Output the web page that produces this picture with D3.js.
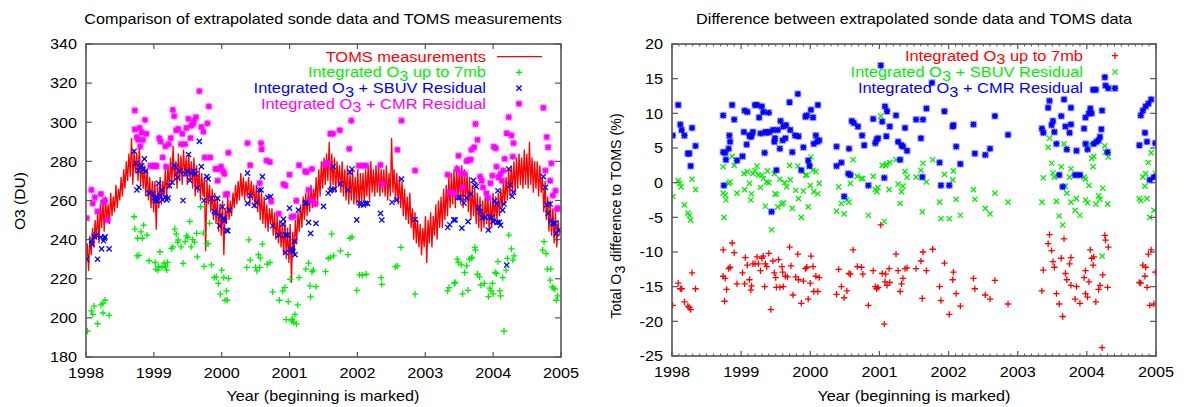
<!DOCTYPE html>
<html><head><meta charset="utf-8">
<script src="https://cdn.jsdelivr.net/npm/d3@7"></script>
<style>body{margin:0;background:#fff}svg{display:block}text{font-family:"Liberation Sans",Arial,Helvetica,sans-serif}</style>
</head><body><svg id="c" width="1188" height="407"></svg>
<script>
// ---------------- data ----------------
const yearTicks = [1998,1999,2000,2001,2002,2003,2004,2005];
const leftYTicks = [180,200,220,240,260,280,300,320,340];
const rightYTicks = [-25,-20,-15,-10,-5,0,5,10,15,20];

// TOMS total ozone (DU), weekly readings starting 1998-01-01
const tomsStartYear = 1998, tomsStepDays = 7;
const tomsDU = [
// 1998
228,238,224,242, 232,246,236,250, 240,255,238,258, 246,260,244,262,250, 258,248,264,252, 262,254,268,256,266, 260,272,262,276, 266,280,270,284, 272,292,268,286,274, 284,270,288,268, 280,266,278,262, 276,260,272,256,270,
// 1999
254,270,245,268, 256,272,258,270, 262,276,260,278,266, 282,268,288,270, 280,266,284,270, 283,268,286,272,282, 268,284,270,280, 266,282,262,278, 264,276,260,274,262, 272,234,270,258, 268,254,266,250, 264,248,262,244,258,
// 2000
242,260,232,256, 248,262,250,260, 252,264,256,268,258, 270,260,274,262, 272,260,270,262, 272,258,270,260,268, 256,268,254,266, 250,264,248,262, 246,258,244,256,248, 256,242,254,240, 252,238,250,236, 248,232,250,230,246,
// 2001
228,248,218,244, 232,250,238,254, 244,258,246,262,250, 264,252,266,254, 268,256,266,258, 272,258,276,262,280, 266,282,268,284, 270,290,266,284, 268,282,264,280,268, 278,264,280,262, 276,260,278,258, 274,260,276,258,272,
// 2002
258,276,256,274, 260,274,258,276, 262,278,260,280,264, 276,262,278,264, 278,262,276,264, 276,262,278,260,274, 262,292,264,276, 260,274,258,272, 256,270,252,266,250, 262,248,264,246, 256,240,254,238, 250,236,248,232,246,
// 2003
236,252,228,250, 238,254,236,252, 242,258,240,260,246, 262,246,266,250, 268,252,272,256, 274,258,276,256,278, 260,276,258,278, 256,276,260,274, 254,272,250,268,252, 266,248,264,246, 262,244,260,246, 262,248,264,244,260,
// 2004
246,264,248,262, 250,264,252,266, 256,270,258,272,260, 276,262,278,264, 280,264,282,266, 284,268,282,266,286, 268,284,266,290, 268,282,264,280, 266,280,262,278,264, 272,254,270,250, 262,244,260,242, 256,238,254,236,250,
242
];

// Left panel: sonde totals (DU) as [year, value]
const sonde7mb = [
[1998.02,193.3],[1998.08,203.6],[1998.10,201.8],[1998.12,206],[1998.17,197],[1998.22,206.6],[1998.25,207.5],[1998.28,209],[1998.25,202.5],[1998.34,201.3],
[1998.71,251.7],[1998.72,245.4],[1998.75,231.7],[1998.78,232],[1998.76,240.7],[1998.81,244],[1998.83,240.7],[1998.85,247.4],[1998.90,242.3],[1998.93,229.2],
[1999.02,228.3],[1999.03,224.9],[1999.06,224.4],[1999.07,226.3],[1999.09,233.8],[1999.12,225.8],[1999.15,228],[1999.17,226.4],[1999.19,224.4],[1999.20,228.3],
[1999.26,235.5],[1999.28,236.3],[1999.31,245.4],[1999.33,242.8],[1999.35,238.6],[1999.36,239.8],[1999.40,236.3],[1999.43,227.9],[1999.46,239],[1999.48,241.9],
[1999.50,241.2],[1999.53,249.3],[1999.55,236.3],[1999.57,240],[1999.60,238.7],[1999.63,243.2],[1999.64,231.2],[1999.69,256.8],[1999.73,243.3],[1999.74,226.3],
[1999.78,238],[1999.80,238],[1999.82,248.3],[1999.85,227.1],[1999.89,220.6],[1999.92,221],[1999.95,217.6],[1999.98,212.1],[2000.00,224.4],[2000.03,220.6],
[2000.05,209],[2000.07,213.8],[2000.10,220.1],[2000.08,209],
[2000.37,225.8],[2000.40,239.9],[2000.42,229.5],[2000.50,225.8],[2000.52,224],[2000.56,225.8],[2000.54,232.3],[2000.57,230.5],[2000.60,237.7],[2000.67,227.5],
[2000.71,228.3],[2000.75,213.3],[2000.85,209],[2000.90,213.8],[2000.93,215.5],[2000.95,199.1],[2000.98,208.3],[2001.01,219.7],[2001.03,198.4],[2001.04,199.3],
[2001.06,197.6],[2001.08,201.8],[2001.10,196.9],[2001.12,206.6],[2001.14,220.6],[2001.24,224.9],[2001.28,228],[2001.30,216.4],[2001.31,210.7],[2001.33,223.6],
[2001.35,224.4],[2001.39,216],[2001.53,223.6],[2001.57,230.4],[2001.60,230.9],[2001.62,242.9],[2001.65,231.7],[2001.75,234.3],[2001.86,232.3],[2001.89,240.7],
[2001.92,241.4],[2001.99,214.1],[2002.03,222],[2002.07,221.8],[2002.13,222.3],[2002.35,220.6],[2002.36,217.1],[2002.56,226.1],[2002.59,226.6],[2002.64,236],
[2002.85,212.1],
[2003.33,213.8],[2003.35,215.5],[2003.43,217.6],[2003.44,218.1],[2003.47,230],[2003.49,228.3],[2003.53,227.1],[2003.55,212.3],[2003.58,223.2],[2003.61,226.6],
[2003.63,214.1],[2003.65,230],[2003.68,230.5],[2003.69,230.9],[2003.73,236],[2003.74,234.6],[2003.77,222.3],[2003.80,221],[2003.82,216.8],[2003.87,217.6],
[2003.93,210.9],[2003.95,215.2],[2003.97,213.8],[2003.99,217.6],[2004.00,212.3],[2004.03,223.2],[2004.05,222.6],[2004.07,228.8],[2004.10,213.8],[2004.11,211.2],
[2004.14,220.6],[2004.16,193.3],[2004.19,224.4],[2004.21,230.4],[2004.23,242.3],[2004.27,235.3],[2004.29,229.5],[2004.31,231.7],
[2004.75,239],[2004.73,234.6],[2004.78,232.9],[2004.80,224.9],[2004.84,219.3],[2004.85,224.9],[2004.87,215.8],[2004.89,215.2],[2004.91,214.7],[2004.93,209],[2004.95,211.2]
];
const sondeSBUV = [
[1998.01,230],[1998.08,239.4],[1998.09,237.7],[1998.12,241.5],[1998.15,242.3],[1998.17,230],[1998.22,241.2],[1998.23,235.3],[1998.27,240.7],[1998.28,241.4],[1998.26,239.4],[1998.34,235.3],
[1998.71,285.2],[1998.74,279],[1998.75,265.4],[1998.77,275.3],[1998.78,266.7],[1998.80,277],[1998.82,277.8],[1998.84,275.6],[1998.86,281.3],[1998.88,275],[1998.93,263.8],[1998.98,263.7],
[1999.01,261.3],[1999.02,259.9],[1999.04,261.6],[1999.05,259.9],[1999.07,268.8],[1999.09,262.5],[1999.12,265.4],[1999.13,260.4],[1999.17,261.6],[1999.19,260.3],[1999.21,261.3],[1999.23,267.6],
[1999.27,269.3],[1999.30,277.9],[1999.32,277],[1999.35,271.9],[1999.38,275],[1999.43,260],[1999.46,273.6],[1999.49,275],[1999.51,283.5],[1999.53,270.2],[1999.55,274],[1999.59,275],
[1999.61,273.6],[1999.64,266.5],[1999.67,290.2],[1999.70,277.3],[1999.74,260],[1999.78,272.2],[1999.80,271],[1999.85,261.1],[1999.89,254.4],[1999.91,253.6],[1999.94,261.1],[1999.97,247.1],
[1999.98,252.2],[2000.01,256.8],[2000.03,251],[2000.04,249.7],[2000.07,244.8],[2000.09,244.5],[2000.11,255.1],
[2000.38,274],[2000.38,258.5],[2000.42,262.5],[2000.48,257.5],[2000.52,259.1],[2000.55,265.4],[2000.58,265.4],[2000.60,272.2],[2000.68,261.6],[2000.72,262],[2000.75,247.1],[2000.84,242.3],
[2000.90,247.9],[2000.91,250.5],[2000.94,242.4],[2000.97,242.3],[2000.94,233.4],[2001.00,256.1],[2001.02,234.7],[2001.04,235.3],[2001.05,234],[2001.07,239.1],[2001.08,232.3],[2001.13,255.1],
[2001.23,258.5],[2001.25,258.9],[2001.28,248.8],[2001.31,243.2],[2001.32,259.9],[2001.39,248.3],[2001.50,257],[2001.57,263.7],[2001.60,265],[2001.62,265.7],[2001.64,277.3],[2001.66,265.9],
[2001.75,268.5],[2001.86,265.4],[2001.89,274.5],[2001.92,276.1],[2001.99,250.1],[2002.03,258.7],[2002.05,257.8],[2002.09,257.7],[2002.12,258.5],[2002.15,258.5],[2002.34,253.4],[2002.36,250],
[2002.51,259.1],[2002.58,260.3],[2002.65,271],[2002.85,250.3],
[2003.33,246.2],[2003.36,247.6],[2003.42,250.1],[2003.44,250.1],[2003.48,261.6],[2003.51,261.6],[2003.54,245.9],[2003.57,258.7],[2003.61,261.3],[2003.63,249.2],[2003.67,263.3],[2003.71,270.3],
[2003.73,267.9],[2003.75,267.1],[2003.79,256.5],[2003.81,254.3],[2003.84,251.3],[2003.88,251.3],[2003.93,244.9],[2003.95,251.7],[2003.98,251.3],[2004.00,249.3],[2004.02,259.9],[2004.05,258.2],
[2004.07,265],[2004.06,248.8],[2004.09,248.8],[2004.11,247.4],[2004.14,255.1],[2004.16,258.2],[2004.20,227],[2004.23,276.1],[2004.25,267.9],[2004.28,262.2],[2004.30,264.2],
[2004.74,272.2],[2004.77,266.7],[2004.79,257.8],[2004.81,253.4],[2004.84,258.2],[2004.85,249.6],[2004.88,248.3],[2004.91,248.3],[2004.93,243.2],[2004.97,244.9]
];
const sondeCMR = [
[1998.01,251],[1998.08,265.4],[1998.10,258.5],[1998.13,261.6],[1998.17,254.4],[1998.22,263.3],[1998.25,259.1],[1998.28,259.9],[1998.32,250],
[1998.72,306],[1998.72,296.3],[1998.75,292.4],[1998.77,291],[1998.79,297.1],[1998.82,294.9],[1998.84,291],[1998.87,301.2],[1998.89,294.1],[1998.80,287.7],[1998.95,277.8],
[1998.98,277.5],[1999.02,277.8],[1999.04,277.5],[1999.08,291.9],[1999.10,290.1],[1999.13,282],[1999.17,287.7],[1999.18,277.3],[1999.22,288.8],[1999.25,291.9],[1999.28,306.3],[1999.30,303.1],
[1999.33,295.9],[1999.36,296.6],[1999.40,288.8],[1999.42,294.1],[1999.46,288.8],[1999.48,297.1],[1999.51,301.7],[1999.54,291.9],[1999.55,298.2],[1999.58,299.1],[1999.59,300.8],[1999.62,302.6],
[1999.67,315.9],[1999.70,297.6],[1999.73,295.2],[1999.75,282],[1999.79,299.4],[1999.81,308.1],[1999.83,282],[1999.91,276.1],[1999.94,270.1],[1999.95,276.1],[1999.99,277.3],[2000.02,275],
[2000.04,273.6],[2000.06,263],[2000.08,263.3],[2000.10,284.4],
[2000.38,289.3],[2000.42,278],[2000.56,268.8],[2000.58,289.3],[2000.59,286.2],[2000.66,280.4],[2000.71,279.7],[2000.73,259.5],[2000.84,253.2],[2000.91,268.4],[2000.94,267.6],[2001.00,273.2],
[2001.03,251.5],[2001.06,251.9],[2001.10,259.9],[2001.14,278],[2001.23,275],[2001.25,274.5],[2001.28,265.4],[2001.32,260.3],[2001.33,276.1],[2001.38,258.2],[2001.52,278.2],[2001.56,279.2],
[2001.60,294.1],[2001.64,294.1],[2001.74,295.9],[2001.88,286.4],[2001.91,300.8],[2002.02,277.8],[2002.08,277.8],[2002.13,277.8],[2002.34,278.2],[2002.37,268.5],[2002.59,285.9],[2002.65,300.8],
[2002.85,275.3],
[2003.33,273.2],[2003.36,264.2],[2003.42,263.7],[2003.47,276.1],[2003.49,282.9],[2003.53,273.9],[2003.55,266.7],[2003.58,273.6],[2003.61,280.2],[2003.64,280.6],[2003.67,280.9],[2003.68,285.9],
[2003.72,287.2],[2003.74,299.1],[2003.77,291],[2003.81,272.2],[2003.83,270.1],[2003.85,266.7],[2003.90,263.7],[2003.93,261.3],[2003.96,268.8],[2003.99,272.7],[2004.01,287.5],[2004.04,286.7],
[2004.05,277.3],[2004.08,271.9],[2004.11,273.6],[2004.13,270.1],[2004.15,275.3],[2004.17,281.3],[2004.20,294.4],[2004.23,302.6],[2004.27,293.2],[2004.29,282.4],[2004.30,289.3],
[2004.74,307.4],[2004.77,275.3],[2004.79,292.4],[2004.81,287.2],[2004.84,270.1],[2004.86,279],[2004.88,262.5],[2004.92,265],[2004.94,255.6],[2004.96,256.1]
];

// Right panel: difference to TOMS (%) as [year, value]
const diff7mb = [
[1998.01,-17.7],[1998.09,-14.5],[1998.12,-15.3],[1998.14,-15.3],[1998.18,-17.2],[1998.23,-17.8],[1998.25,-18.0],[1998.27,-18.3],[1998.29,-13.0],[1998.34,-15.3],
[1998.74,-9.7],[1998.74,-13.5],[1998.76,-17.1],[1998.77,-13.8],[1998.79,-15.4],[1998.82,-12.4],[1998.84,-12.2],[1998.87,-8.7],[1998.90,-10.1],[1998.94,-14.6],
[1999.02,-13.0],[1999.05,-14.6],[1999.06,-10.8],[1999.09,-11.9],[1999.12,-14.0],[1999.14,-15.5],[1999.15,-14.9],[1999.17,-11.7],[1999.20,-11.7],[1999.23,-10.7],
[1999.25,-11.7],[1999.28,-12.7],[1999.30,-10.9],[1999.32,-10.6],[1999.35,-11.7],[1999.37,-12.1],[1999.34,-15.0],[1999.40,-10.2],[1999.43,-18.3],[1999.46,-11.3],
[1999.48,-13.0],[1999.50,-13.7],[1999.51,-15.1],[1999.54,-11.1],[1999.56,-15.1],[1999.59,-12.1],[1999.61,-15.0],[1999.60,-12.9],[1999.64,-13.5],[1999.67,-13.6],
[1999.70,-9.3],[1999.72,-12.0],[1999.75,-16.2],[1999.79,-13.6],[1999.82,-10.3],[1999.83,-14.0],[1999.87,-17.4],[1999.90,-14.2],[1999.93,-12.4],[1999.95,-12.2],
[1999.97,-16.8],[2000.00,-14.5],[2000.01,-10.6],[2000.04,-12.1],[2000.05,-15.7],[2000.08,-13.5],[2000.11,-15.7],[2000.13,-13.7],
[2000.38,-16.1],[2000.41,-12.5],[2000.45,-15.0],[2000.49,-16.6],[2000.53,-15.6],[2000.56,-13.1],[2000.58,-13.2],[2000.62,-9.7],[2000.68,-12.1],[2000.74,-12.2],
[2000.76,-13.2],[2000.84,-17.7],[2000.91,-12.7],[2000.94,-15.0],[2000.96,-15.3],[2000.98,-15.1],[2001.02,-6.1],[2001.04,-13.1],[2001.07,-20.4],[2001.09,-13.2],
[2001.08,-14.3],[2001.11,-14.8],[2001.14,-12.4],[2001.15,-14.4],[2001.24,-10.3],[2001.27,-12.7],[2001.30,-15.7],[2001.32,-14.6],[2001.34,-13.8],[2001.37,-12.4],
[2001.40,-12.3],[2001.53,-12.4],[2001.60,-11.3],[2001.62,-16.7],[2001.63,-10.0],[2001.68,-12.7],[2001.77,-9.6],[2001.87,-15.0],[2001.89,-17.0],[2001.94,-11.6],
[2002.01,-19.0],[2002.06,-14.0],[2002.07,-12.9],[2002.11,-16.0],[2002.17,-17.8],[2002.36,-13.8],[2002.38,-15.3],[2002.53,-16.2],[2002.60,-16.8],[2002.67,-14.1],
[2002.86,-17.5],
[2003.35,-15.6],[2003.37,-12.6],[2003.44,-8.8],[2003.46,-7.5],[2003.49,-9.8],[2003.51,-11.4],[2003.53,-12.2],[2003.56,-16.0],[2003.60,-17.5],[2003.63,-10.9],
[2003.65,-19.3],[2003.67,-8.1],[2003.69,-13.1],[2003.71,-14.0],[2003.75,-11.7],[2003.77,-10.8],[2003.77,-14.8],[2003.83,-16.8],[2003.85,-15.0],[2003.90,-17.4],
[2003.96,-13.7],[2003.98,-12.7],[2003.98,-16.0],[2004.01,-16.5],[2004.03,-14.3],[2004.05,-9.7],[2004.07,-10.9],[2004.09,-11.9],[2004.10,-10.7],[2004.13,-17.2],
[2004.17,-15.4],[2004.19,-14.8],[2004.22,-23.8],[2004.23,-13.3],[2004.26,-7.6],[2004.27,-8.3],[2004.31,-9.3],[2004.30,-15.1],
[2004.76,-14.4],[2004.78,-14.5],[2004.81,-11.9],[2004.84,-13.5],[2004.85,-12.2],[2004.87,-15.1],[2004.89,-10.3],[2004.91,-17.7],[2004.93,-9.7],[2004.97,-17.5],[2004.99,-12.9]
];
const diffSBUV = [
[1998.01,-2.0],[1998.09,0.3],[1998.11,-0.1],[1998.13,-0.6],[1998.18,-3.2],[1998.23,-4.4],[1998.25,-4.7],[1998.27,-5.4],[1998.29,0.5],[1998.34,-1.0],
[1998.74,2.3],[1998.74,-1.5],[1998.75,-5.0],[1998.77,-1.8],[1998.78,-2.5],[1998.82,-0.1],[1998.84,0.1],[1998.87,3.8],[1998.90,2.5],[1998.94,-1.5],
[1999.02,3.8],[1999.05,-1.0],[1999.04,1.3],[1999.09,1.6],[1999.12,-0.1],[1999.14,-2.5],[1999.15,-1.6],[1999.17,1.3],[1999.20,1.7],[1999.23,2.4],
[1999.25,1.1],[1999.28,-0.7],[1999.30,1.1],[1999.32,0.6],[1999.35,-3.4],[1999.37,0.1],[1999.38,1.7],[1999.40,0.0],[1999.44,-6.8],[1999.48,1.3],
[1999.49,-1.6],[1999.51,-1.7],[1999.53,-3.5],[1999.56,0.5],[1999.59,-3.1],[1999.61,-2.9],[1999.63,0.0],[1999.66,-0.6],[1999.70,2.5],[1999.71,0.4],
[1999.74,-3.7],[1999.79,-1.1],[1999.82,2.4],[1999.83,-2.3],[1999.87,-5.0],[1999.90,-1.2],[1999.93,1.1],[1999.95,1.1],[1999.97,-3.5],[2000.00,-0.4],
[2000.01,3.7],[2000.04,1.8],[2000.05,-1.3],[2000.08,1.6],[2000.11,-1.6],[2000.13,-0.1],
[2000.38,-4.1],[2000.41,-0.6],[2000.45,-3.0],[2000.49,-4.5],[2000.53,-2.5],[2000.56,-2.8],[2000.58,-0.1],[2000.62,3.3],[2000.68,0.9],[2000.74,0.6],
[2000.76,0.6],[2000.84,-4.7],[2000.91,0.9],[2000.94,-1.0],[2000.96,-1.3],[2000.98,-0.7],[2001.02,9.6],[2001.04,2.5],[2001.07,-5.6],[2001.09,2.5],
[2001.11,2.7],[2001.14,-1.0],[2001.15,2.9],[2001.24,3.3],[2001.27,-0.2],[2001.30,-3.0],[2001.32,-1.3],[2001.34,-0.5],[2001.37,1.6],[2001.40,0.8],
[2001.53,0.8],[2001.60,1.8],[2001.62,-4.2],[2001.63,2.8],[2001.68,0.1],[2001.77,3.3],[2001.87,-2.8],[2001.89,-5.2],[2001.94,1.2],[2002.01,-5.2],
[2002.06,0.4],[2002.07,1.7],[2002.11,-2.4],[2002.17,-4.7],[2002.36,-1.0],[2002.38,-2.4],[2002.53,-3.7],[2002.60,-4.5],[2002.67,-1.5],[2002.86,-2.8],
[2003.35,-2.8],[2003.37,0.7],[2003.44,5.1],[2003.46,6.4],[2003.49,2.8],[2003.51,1.4],[2003.53,0.8],[2003.56,-2.7],[2003.60,-4.8],[2003.63,2.3],
[2003.65,-6.1],[2003.67,5.6],[2003.69,-0.5],[2003.71,-1.5],[2003.75,0.8],[2003.77,2.0],[2003.77,-2.8],[2003.83,-4.0],[2003.85,-2.3],[2003.90,-4.7],
[2003.96,0.8],[2003.98,0.5],[2003.98,-2.5],[2004.01,-2.9],[2004.03,-0.4],[2004.05,5.6],[2004.07,3.5],[2004.09,2.3],[2004.10,3.8],[2004.13,-3.1],
[2004.17,-1.9],[2004.19,-2.4],[2004.22,-10.6],[2004.23,-0.8],[2004.26,5.3],[2004.27,4.4],[2004.31,3.7],[2004.30,-3.1],
[2004.76,-2.3],[2004.78,-2.6],[2004.81,0.8],[2004.84,-0.5],[2004.85,1.3],[2004.87,-2.3],[2004.89,2.9],[2004.91,-5.0],[2004.93,4.3],[2004.97,-4.0],[2004.99,1.3]
];
const diffCMR = [
[1998.01,6.8],[1998.09,11.2],[1998.12,8.4],[1998.14,7.6],[1998.18,6.8],[1998.23,4.2],[1998.25,4.2],[1998.27,2.4],[1998.29,7.9],[1998.34,5.3],
[1998.74,9.7],[1998.74,4.4],[1998.75,-0.4],[1998.77,4.3],[1998.78,3.3],[1998.82,4.9],[1998.83,6.8],[1998.84,5.9],[1998.87,11.2],[1998.90,9.1],[1998.94,3.2],
[1999.02,3.8],[1999.04,7.3],[1999.05,10.4],[1999.08,5.5],[1999.09,10.2],[1999.12,6.8],[1999.14,6.6],[1999.15,6.8],[1999.17,7.3],[1999.20,11.2],
[1999.23,11.2],[1999.26,9.4],[1999.28,7.1],[1999.30,11.0],[1999.32,10.2],[1999.34,4.3],[1999.35,7.3],[1999.37,7.2],[1999.40,10.1],[1999.41,7.3],
[1999.44,-4.2],[1999.46,7.6],[1999.48,5.9],[1999.49,6.4],[1999.51,1.8],[1999.53,7.6],[1999.56,4.9],[1999.57,8.9],[1999.60,6.1],[1999.61,8.1],
[1999.64,6.4],[1999.65,8.3],[1999.70,11.6],[1999.71,7.6],[1999.74,4.4],[1999.78,6.8],[1999.82,12.8],[1999.83,6.7],[1999.87,1.8],[1999.90,5.1],
[1999.93,9.5],[1999.95,9.7],[1999.97,3.2],[1999.99,2.4],[2000.01,10.5],[2000.04,9.4],[2000.05,5.6],[2000.08,6.8],[2000.10,5.9],[2000.11,11.2],[2000.13,6.1],
[2000.38,5.2],[2000.38,2.4],[2000.45,2.9],[2000.49,-2.0],[2000.55,1.3],[2000.56,4.9],[2000.58,1.1],[2000.60,8.9],[2000.63,8.6],[2000.69,8.1],
[2000.75,6.8],[2000.78,5.4],[2000.84,-0.4],[2000.91,9.2],[2000.94,5.7],[2000.96,6.2],[2000.98,6.4],[2001.02,16.9],[2001.04,8.8],[2001.07,0.7],
[2001.08,11.0],[2001.10,6.7],[2001.11,10.3],[2001.15,8.1],[2001.24,9.7],[2001.27,5.9],[2001.30,3.3],[2001.32,5.4],[2001.34,5.2],[2001.37,7.9],
[2001.40,4.6],[2001.53,9.1],[2001.60,6.4],[2001.62,0.8],[2001.63,9.1],[2001.68,10.7],[2001.76,14.4],[2001.87,2.9],[2001.89,-0.4],[2001.94,10.3],
[2002.01,-0.4],[2002.06,8.1],[2002.07,8.3],[2002.11,5.2],[2002.17,2.7],[2002.36,8.4],[2002.38,4.2],[2002.53,4.0],[2002.60,4.9],[2002.67,9.6],[2002.86,6.9],
[2003.35,7.8],[2003.37,7.2],[2003.44,10.8],[2003.46,11.8],[2003.49,8.3],[2003.51,8.9],[2003.53,7.3],[2003.56,5.6],[2003.60,1.1],[2003.63,9.6],
[2003.65,-0.6],[2003.67,12.0],[2003.69,8.1],[2003.71,4.8],[2003.75,7.2],[2003.77,8.4],[2003.77,10.8],[2003.83,1.1],[2003.85,4.6],[2003.90,1.1],
[2003.96,7.8],[2003.98,5.6],[2003.98,9.4],[2004.01,4.8],[2004.03,10.0],[2004.05,10.7],[2004.07,10.0],[2004.09,13.4],[2004.10,5.6],[2004.13,13.4],
[2004.14,5.9],[2004.17,6.1],[2004.19,6.6],[2004.21,7.7],[2004.22,10.4],[2004.26,15.2],[2004.27,14.0],[2004.31,13.6],[2004.30,4.4],
[2004.76,5.4],[2004.78,9.7],[2004.81,10.4],[2004.84,7.2],[2004.85,11.0],[2004.87,5.9],[2004.89,11.4],[2004.91,0.4],[2004.93,12.0],[2004.97,0.8],[2004.99,5.7]
];

// ---------------- drawing ----------------
const svg = d3.select("#c");
const SX = 1.08;           // horizontal glyph stretch of the original rendering
const FONT = 15;
const LEG = 15.5, LEGSX = 1.06;
const AXIS = "#555";

function addText(g, parts, x, y, o) {
  o = Object.assign({size: FONT, anchor: "middle", color: "#000", sx: SX, rot: 0}, o || {});
  const t = g.append("text")
    .attr("text-anchor", o.anchor)
    .attr("font-size", o.size)
    .attr("fill", o.color)
    .attr("transform", `translate(${x},${y})` + (o.rot ? ` rotate(${o.rot})` : "") + ` scale(${o.sx},1)`);
  if (typeof parts === "string") parts = [parts];
  let shifted = false;
  parts.forEach(p => {
    if (typeof p === "string") {
      t.append("tspan").attr("dy", shifted ? -3.5 : 0).text(p); shifted = false;
    } else {
      t.append("tspan").attr("dy", 3.5).text(p.sub); shifted = true;
    }
  });
  return t;
}

const markers = {
  plus: (s) => `M${-s},0H${s}M0,${-s}V${s}`,
  cross: (s) => `M${-s},${-s}L${s},${s}M${-s},${s}L${s},${-s}`,
  star: (s) => `M${-s},0H${s}M0,${-s}V${s}M${-s*0.8},${-s*0.8}L${s*0.8},${s*0.8}M${-s*0.8},${s*0.8}L${s*0.8},${-s*0.8}`
};

function drawPoints(g, data, x, y, type, color) {
  const grp = g.append("g");
  const sel = grp.selectAll("g.pt").data(data).join("g")
    .attr("transform", d => `translate(${x(d[0])},${y(d[1])})`);
  if (type === "star") {
    sel.append("rect").attr("x", -3.7).attr("y", -3.7).attr("width", 7.4).attr("height", 7.4)
      .attr("fill", color).attr("opacity", 0.25);
    sel.append("path").attr("d", markers.star(3)).attr("stroke", color).attr("stroke-width", 1.5).attr("fill", "none");
  } else if (type === "plus") {
    sel.append("path").attr("d", markers.plus(3.2)).attr("stroke", color).attr("stroke-width", 1.3).attr("fill", "none");
  } else {
    sel.append("path").attr("d", markers.cross(2.6)).attr("stroke", color).attr("stroke-width", 1.3).attr("fill", "none");
  }
}
function legendMarker(g, type, color, cx, cy) {
  drawPoints(g, [[0, 0]], () => cx, () => cy, type, color);
}

function frame(g, box, x, y, yTicks, minorX) {
  const fr = g.append("g").attr("stroke", AXIS).attr("fill", "none");
  yearTicks.forEach(t => {
    const px = x(t);
    fr.append("line").attr("x1", px).attr("x2", px).attr("y1", box.y1).attr("y2", box.y1 - 5).attr("stroke-width", 1.2);
    fr.append("line").attr("x1", px).attr("x2", px).attr("y1", box.y0).attr("y2", box.y0 + 5).attr("stroke-width", 1.2);
  });
  if (minorX) {
    d3.range(1998, 2005, minorX).forEach(t => {
      if (Math.abs(t - Math.round(t)) < 1e-6) return;
      const px = x(t);
      fr.append("line").attr("x1", px).attr("x2", px).attr("y1", box.y1).attr("y2", box.y1 - 2.5).attr("stroke-width", 1);
      fr.append("line").attr("x1", px).attr("x2", px).attr("y1", box.y0).attr("y2", box.y0 + 2.5).attr("stroke-width", 1);
    });
  }
  yTicks.forEach(t => {
    const py = y(t);
    fr.append("line").attr("x1", box.x0).attr("x2", box.x0 + 6).attr("y1", py).attr("y2", py).attr("stroke-width", 1.2);
    fr.append("line").attr("x1", box.x1).attr("x2", box.x1 - 6).attr("y1", py).attr("y2", py).attr("stroke-width", 1.2);
  });
  fr.append("rect").attr("x", box.x0).attr("y", box.y0).attr("width", box.x1 - box.x0).attr("height", box.y1 - box.y0)
    .attr("stroke-width", 1.6);
  const lg = g.append("g");
  yearTicks.forEach(t => addText(lg, String(t), x(t), box.y1 + 21, {}));
  yTicks.forEach(t => addText(lg, String(t), box.x0 - 9, y(t) + 5.3, {anchor: "end"}));
}

// ===== Left panel =====
{
  const box = {x0: 86, x1: 561, y0: 44, y1: 357};
  const g = svg.append("g");
  const x = d3.scaleLinear().domain([1998, 2005]).range([box.x0, box.x1]);
  const y = d3.scaleLinear().domain([180, 340]).range([box.y1, box.y0]);
  g.append("clipPath").attr("id", "clipL").append("rect")
    .attr("x", box.x0).attr("y", box.y0).attr("width", box.x1 - box.x0).attr("height", box.y1 - box.y0);
  const pg = g.append("g").attr("clip-path", "url(#clipL)");
  const line = d3.line()
    .x((d, i) => x(tomsStartYear + i * tomsStepDays / 365.25))
    .y(d => y(d));
  pg.append("path").datum(tomsDU).attr("d", line).attr("fill", "none").attr("stroke", "#ff0000").attr("stroke-width", 1.3);
  drawPoints(pg, sonde7mb, x, y, "plus", "#00ee00");
  drawPoints(pg, sondeSBUV, x, y, "cross", "#0000ff");
  drawPoints(pg, sondeCMR, x, y, "star", "#ff00ff");
  frame(g, box, x, y, leftYTicks, 0);

  addText(g, "Comparison of extrapolated sonde data and TOMS measurements", 323, 24, {});
  addText(g, "Year (beginning is marked)", 323, 401, {});
  addText(g, "O3 (DU)", 25, 201, {rot: -90, sx: 1.04});

  const lx = 486;
  const rows = [61.7, 77.4, 93.1, 108.8];
  addText(g, "TOMS measurements", lx, rows[0], {anchor: "end", color: "#ff0000", size: LEG, sx: LEGSX});
  g.append("line").attr("x1", 497).attr("x2", 542).attr("y1", rows[0] - 5).attr("y2", rows[0] - 5)
    .attr("stroke", "#ff0000").attr("stroke-width", 1.2);
  addText(g, ["Integrated O", {sub: "3"}, " up to 7mb"], lx, rows[1], {anchor: "end", color: "#00ee00", size: LEG, sx: LEGSX});
  legendMarker(g, "plus", "#00ee00", 519, rows[1] - 5);
  addText(g, ["Integrated O", {sub: "3"}, " + SBUV Residual"], lx, rows[2], {anchor: "end", color: "#0000ff", size: LEG, sx: LEGSX});
  legendMarker(g, "cross", "#0000ff", 519, rows[2] - 5);
  addText(g, ["Integrated O", {sub: "3"}, " + CMR Residual"], lx, rows[3], {anchor: "end", color: "#ff00ff", size: LEG, sx: LEGSX});
  legendMarker(g, "star", "#ff00ff", 519, rows[3] - 5);
}

// ===== Right panel =====
{
  const box = {x0: 672, x1: 1156, y0: 44, y1: 356};
  const g = svg.append("g");
  const x = d3.scaleLinear().domain([1998, 2005]).range([box.x0, box.x1]);
  const y = d3.scaleLinear().domain([-25, 20]).range([box.y1, box.y0]);
  g.append("clipPath").attr("id", "clipR").append("rect")
    .attr("x", box.x0).attr("y", box.y0).attr("width", box.x1 - box.x0).attr("height", box.y1 - box.y0);
  const pg = g.append("g").attr("clip-path", "url(#clipR)");
  drawPoints(pg, diff7mb, x, y, "plus", "#ff0000");
  drawPoints(pg, diffSBUV, x, y, "cross", "#00ee00");
  drawPoints(pg, diffCMR, x, y, "star", "#0000ff");
  frame(g, box, x, y, rightYTicks, 0.1);

  addText(g, "Difference between extrapolated sonde data and TOMS data", 914, 24, {});
  addText(g, "Year (beginning is marked)", 914, 401, {});
  addText(g, ["Total O", {sub: "3"}, " difference to TOMS (%)"], 621, 216, {rot: -90, sx: 0.98, size: 14.5});

  const lx = 1083;
  const rows = [60.7, 77.0, 93.3];
  addText(g, ["Integrated O", {sub: "3"}, " up to 7mb"], lx, rows[0], {anchor: "end", color: "#ff0000", size: LEG, sx: LEGSX});
  legendMarker(g, "plus", "#ff0000", 1115, rows[0] - 5);
  addText(g, ["Integrated O", {sub: "3"}, " + SBUV Residual"], lx, rows[1], {anchor: "end", color: "#00ee00", size: LEG, sx: LEGSX});
  legendMarker(g, "cross", "#00ee00", 1115, rows[1] - 5);
  addText(g, ["Integrated O", {sub: "3"}, " + CMR Residual"], lx, rows[2], {anchor: "end", color: "#0000ff", size: LEG, sx: LEGSX});
  legendMarker(g, "star", "#0000ff", 1115, rows[2] - 5);
}
</script></body></html>
